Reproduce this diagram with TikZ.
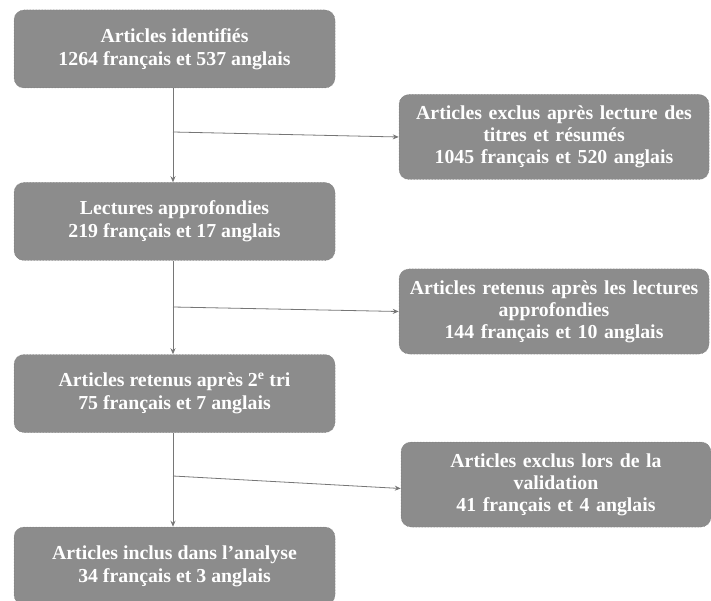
\documentclass[tikz,border=0pt]{standalone}
\usepackage{fontspec}
\setmainfont{Liberation Serif}
\usetikzlibrary{arrows.meta}
\definecolor{boxgray}{RGB}{140,140,140}
\definecolor{linegray}{RGB}{118,118,118}

\begin{document}
\begin{tikzpicture}[x=1pt,y=-1pt,
    stage/.style={draw=linegray,densely dotted,line width=0.5pt,fill=boxgray,rounded corners=10pt,
      text=white,font=\bfseries\fontsize{19.8}{23}\selectfont,align=center,
      minimum width=321pt,minimum height=78pt,inner sep=2pt},
    side/.style={stage,minimum width=310pt,minimum height=85pt,text width=304pt,
      font=\bfseries\fontsize{19.8}{22}\selectfont},
    flow/.style={draw=linegray,line width=0.8pt,-{Stealth[length=6pt,width=5pt]}}]
        \useasboundingbox (0,0) rectangle (711,601);

        % main column
        \node[stage] (ident) at (174.5,49) {Articles identifiés\\1264 français et 537 anglais};
        \node[stage] (lect) at (174.5,221.5) {Lectures approfondies\\219 français et 17 anglais};
        \node[stage] (tri) at (174.5,393.5) {Articles retenus après 2\textsuperscript{e} tri\\75 français et 7 anglais};
        \node[stage] (incl) at (174.5,566) {Articles inclus dans l’analyse\\34 français et 3 anglais};

        % side boxes
        \node[side] (excl) at (554,137) {Articles exclus après lecture des\\titres et résumés\\1045 français et 520 anglais};
        \node[side] (ret) at (554,311.5) {Articles retenus après les lectures\\approfondies\\144 français et 10 anglais};
        \node[side] (valid) at (556,484.5) {Articles exclus lors de la\\validation\\41 français et 4 anglais};

        % branch points
        \coordinate (b1) at (173,132);
        \coordinate (b2) at (173,307);
        \coordinate (b3) at (173,476);

        % vertical arrows
        \draw[flow] (ident.south -| b1) -- (lect.north -| b1);
        \draw[flow] (lect.south -| b2) -- (tri.north -| b2);
        \draw[flow] (tri.south -| b3) -- (incl.north -| b3);

        % side arrows
        \draw[flow] (b1) -- (excl.west);
        \draw[flow] (b2) -- (ret.west);
        \draw[flow] (b3) -- ([yshift=-4pt]valid.west);
    \end{tikzpicture}
\end{document}
